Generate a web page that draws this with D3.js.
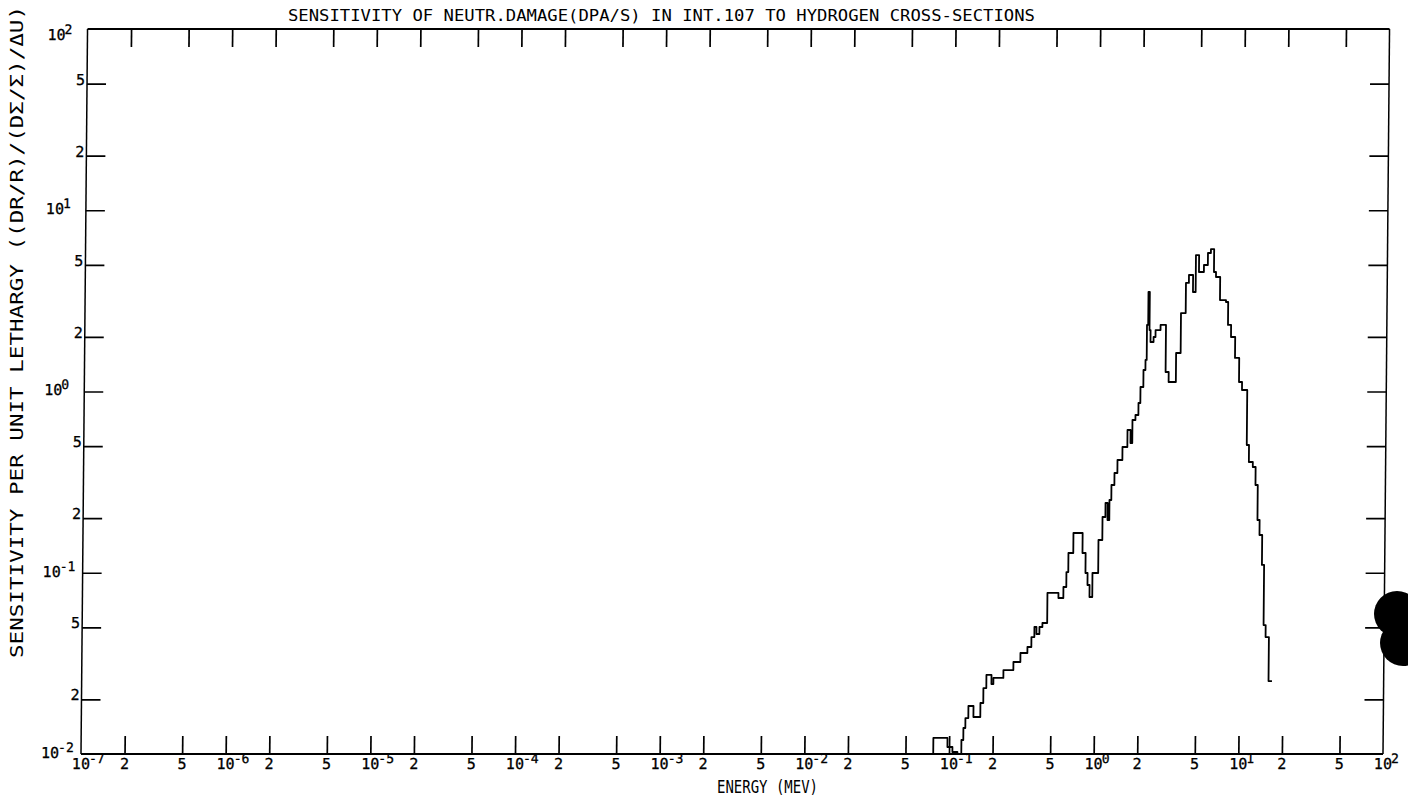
<!DOCTYPE html>
<html>
<head>
<meta charset="utf-8">
<script src="https://cdn.jsdelivr.net/npm/d3@7"></script>
<style>
  html, body { margin: 0; padding: 0; background: #fff; }
  svg { display: block; }
  text { font-family: "DejaVu Sans Mono", monospace; fill: #000; }
</style>
</head>
<body>
<svg id="chart" width="1408" height="799"></svg>
<script>
// ---- axis decades and sub-ticks ----
const xDecades = [-7, -6, -5, -4, -3, -2, -1, 0, 1, 2];
const yDecades = [-2, -1, 0, 1, 2];
const subTicks = [2, 5];

// ---- energy group boundaries (MeV), ascending ----
const groupBounds = [
  1e-7, 0.0778, 0.0974, 0.1055, 0.1143, 0.1216, 0.1253, 0.1292, 0.1353, 0.1467,
  0.1637, 0.1713, 0.1794, 0.1945, 0.2006, 0.2350, 0.2752, 0.3073, 0.3432, 0.3652,
  0.3825, 0.3952, 0.4143, 0.4342, 0.4683, 0.558, 0.6035, 0.6316, 0.6504, 0.7024,
  0.8131, 0.855, 0.8844, 0.9146, 0.956, 1.047, 1.113, 1.165, 1.205, 1.240,
  1.277, 1.338, 1.401, 1.514, 1.636, 1.718, 1.768, 1.853, 1.941, 1.999,
  2.092, 2.157, 2.198, 2.240, 2.289, 2.329, 2.445, 2.521, 2.728, 2.974,
  3.125, 3.507, 3.769, 4.062, 4.256, 4.546, 4.744, 4.988, 5.395, 5.741,
  6.017, 6.333, 6.544, 6.997, 7.700, 7.976, 8.382, 8.961, 9.583, 10.06,
  10.94, 11.34, 12.08, 12.64, 13.11, 13.57, 14.17, 14.67, 15.17, 16.0,
  16.9
];

// ---- sensitivity per unit lethargy in each group ----
const sensitivity = [
  0, 0.01226, 0.01093, 0.01026, 0, 0.01195, 0.01391, 0.01579, 0.0184, 0.0160,
  0.01912, 0.02312, 0.02729, 0.02433, 0.02627, 0.02906, 0.03219, 0.03607, 0.03893, 0.04419,
  0.05019, 0.04592, 0.05019, 0.05281, 0.07735, 0.07257, 0.08346, 0.1009, 0.1285, 0.1657,
  0.1285, 0.09968, 0.08559, 0.07347, 0.09968, 0.1516, 0.2031, 0.2425, 0.1954, 0.2520,
  0.3049, 0.3552, 0.4189, 0.4941, 0.6132, 0.5198, 0.6964, 0.7419, 0.8641, 1.0587,
  1.3143, 1.493, 2.33, 3.54, 2.183, 1.875, 1.998, 2.183, 2.33, 1.281,
  1.128, 1.631, 2.709, 3.97, 4.393, 3.54, 5.66, 4.563, 4.987, 5.81,
  6.11, 4.563, 4.282, 3.196, 3.117, 2.33, 1.998, 1.531, 1.128, 1.019,
  0.5068, 0.4083, 0.3833, 0.3049, 0.1954, 0.1615, 0.1104, 0.05147, 0.04419, 0.02527
];

// ---- texts ----
const titleText = "SENSITIVITY OF NEUTR.DAMAGE(DPA/S) IN INT.107 TO HYDROGEN CROSS-SECTIONS";
const xTitle = "ENERGY (MEV)";
const yTitle = "SENSITIVITY PER UNIT LETHARGY ((DR/R)/(D\u03A3/\u03A3)/\u0394U)";

// ---- layout ----
const W = 1408, H = 799;
const box = { left: 81, right: 1383, top: 29, bottom: 754 };
const shear = 0.009;          // the plotter frame leans slightly to the right

const svg = d3.select("#chart");
svg.append("rect").attr("width", W).attr("height", H).attr("fill", "#fff");

const x = d3.scaleLog().domain([1e-7, 1e2]).range([box.left, box.right]);
const y = d3.scaleLog().domain([1e-2, 1e2]).range([box.bottom, box.top]);

const g = svg.append("g")
  .attr("transform", `translate(${shear * box.bottom},0) skewX(${-Math.atan(shear) * 180 / Math.PI})`);

// tick values: 1, 2, 5 per decade
function decadeTicks(decades) {
  const out = [];
  decades.forEach((d, i) => {
    out.push({ v: Math.pow(10, d), lab: "10", exp: String(d), major: true });
    if (i < decades.length - 1) subTicks.forEach(m => out.push({ v: m * Math.pow(10, d), lab: String(m), major: false }));
  });
  return out;
}
const xTicks = decadeTicks(xDecades);
const yTicks = decadeTicks(yDecades);
const xInner = xTicks.filter(t => t.v > 1.0001e-7 && t.v < 0.9999e2).map(t => t.v);
const yInner = yTicks.filter(t => t.v > 1.0001e-2 && t.v < 0.9999e2).map(t => t.v);

const tickLen = 18;
function styleAxis(sel) {
  sel.select(".domain").remove();
  sel.selectAll(".tick line").attr("stroke", "#000").attr("stroke-width", 1.7);
  sel.selectAll(".tick text").remove();
}
g.append("g").attr("transform", `translate(0,${box.bottom})`)
  .call(d3.axisBottom(x).tickValues(xInner).tickSize(-tickLen).tickFormat("")).call(styleAxis);
g.append("g").attr("transform", `translate(0,${box.top})`)
  .call(d3.axisTop(x).tickValues(xInner).tickSize(-tickLen).tickFormat("")).call(styleAxis);
g.append("g").attr("transform", `translate(${box.left},0)`)
  .call(d3.axisLeft(y).tickValues(yInner).tickSize(-tickLen - 1).tickFormat("")).call(styleAxis);
g.append("g").attr("transform", `translate(${box.right},0)`)
  .call(d3.axisRight(y).tickValues(yInner).tickSize(-tickLen - 1).tickFormat("")).call(styleAxis);

// frame
g.append("line").attr("x1", box.left).attr("x2", box.right).attr("y1", box.bottom).attr("y2", box.bottom)
  .attr("stroke", "#000").attr("stroke-width", 2.2);
g.append("line").attr("x1", box.left).attr("x2", box.right).attr("y1", box.top).attr("y2", box.top)
  .attr("stroke", "#000").attr("stroke-width", 2.2);
g.append("line").attr("x1", box.left).attr("x2", box.left).attr("y1", box.top).attr("y2", box.bottom)
  .attr("stroke", "#000").attr("stroke-width", 1.5);
g.append("line").attr("x1", box.right).attr("x2", box.right).attr("y1", box.top).attr("y2", box.bottom)
  .attr("stroke", "#000").attr("stroke-width", 1.5);

// bottom tick labels
const xLab = g.append("g").attr("font-size", 15).attr("stroke", "#000").attr("stroke-width", 0.3);
xTicks.forEach(t => {
  const tx = x(t.v);
  if (t.major) {
    const txt = xLab.append("text").attr("x", tx - 9).attr("y", 769).text(t.lab);
    txt.append("tspan").attr("dy", -6).attr("dx", -1).attr("font-size", 13).text(t.exp);
  } else {
    xLab.append("text").attr("x", tx).attr("y", 769).attr("text-anchor", "middle").text(t.lab);
  }
});

// left tick labels
const yLab = g.append("g").attr("font-size", 15).attr("stroke", "#000").attr("stroke-width", 0.3);
yTicks.forEach(t => {
  const ty = y(t.v);
  if (t.major) {
    const base = Math.max(ty + 4, box.top + 11);
    const txt = yLab.append("text").attr("x", box.left - 40).attr("y", base).text(t.lab);
    txt.append("tspan").attr("dy", -6).attr("dx", -1).attr("font-size", 13).text(t.exp);
  } else {
    yLab.append("text").attr("x", box.left - 2).attr("y", ty + 1).attr("text-anchor", "end").text(t.lab);
  }
});

// step histogram of the group sensitivities
const floorVal = y.domain()[0];
const pts = sensitivity.map((v, i) => [groupBounds[i], v]);
pts.push([groupBounds[groupBounds.length - 1], sensitivity[sensitivity.length - 1]]);
const line = d3.line()
  .x(d => x(d[0]))
  .y(d => y(Math.max(d[1], floorVal)))
  .curve(d3.curveStepAfter);
g.append("path").datum(pts).attr("d", line)
  .attr("fill", "none").attr("stroke", "#000").attr("stroke-width", 1.8)
  .attr("stroke-linejoin", "round");

// titles
svg.append("text").attr("x", 288).attr("y", 21).attr("font-size", 16.5)
  .attr("textLength", 747).attr("lengthAdjust", "spacingAndGlyphs").text(titleText);
svg.append("text").attr("x", 717).attr("y", 793).attr("font-size", 17)
  .attr("textLength", 101).attr("lengthAdjust", "spacingAndGlyphs").text(xTitle);
svg.append("text").attr("transform", "translate(23,658) rotate(-90)").attr("font-size", 18)
  .attr("textLength", 652).attr("lengthAdjust", "spacingAndGlyphs").text(yTitle);

// punch-hole marks at the right margin of the sheet
svg.append("circle").attr("cx", 1397).attr("cy", 614).attr("r", 23).attr("fill", "#000");
svg.append("circle").attr("cx", 1403).attr("cy", 643).attr("r", 23).attr("fill", "#000");
</script>
</body>
</html>
